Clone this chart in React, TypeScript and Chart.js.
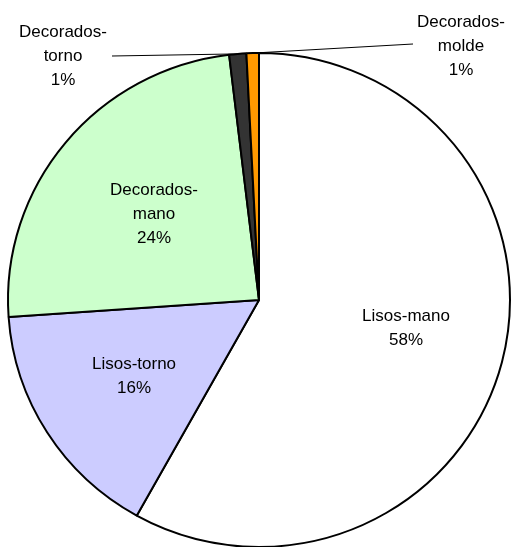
import React, { useEffect, useRef } from "react";
import { Chart, registerables } from "chart.js";

Chart.register(...registerables);

const categories = ["Lisos-mano", "Lisos-torno", "Decorados-mano", "Decorados-torno", "Decorados-molde"];
const values = [58.1, 15.8, 24.2, 1.1, 0.8];
const percentLabels = ["58%", "16%", "24%", "1%", "1%"];
const labelLines = [["Lisos-mano"], ["Lisos-torno"], ["Decorados-", "mano"], ["Decorados-", "torno"], ["Decorados-", "molde"]];
const colors = ["#FFFFFF", "#CCCCFF", "#CCFFCC", "#333333", "#FF9900"];

// label anchor: center x, first baseline y; leader line start (text side)
const labelPos = [
  { x: 406, y: 321 },
  { x: 134, y: 369 },
  { x: 154, y: 195 },
  { x: 63, y: 37 },
  { x: 461, y: 27 },
];
const leaders: Record<number, [number, number]> = {
  3: [112, 56],
  4: [413, 44],
};
const Y_SCALE = 0.984;

const ellipsePlugin = {
  id: "ellipse",
  beforeDatasetsDraw(chart: any) {
    const arc = chart.getDatasetMeta(0).data[0];
    const ctx = chart.ctx;
    ctx.save();
    ctx.translate(arc.x, arc.y);
    ctx.scale(1, Y_SCALE);
    ctx.translate(-arc.x, -arc.y);
  },
  afterDatasetsDraw(chart: any) {
    chart.ctx.restore();
  },
};

const labelPlugin = {
  id: "pieLabels",
  afterDraw(chart: any) {
    const ctx = chart.ctx;
    const meta = chart.getDatasetMeta(0);
    ctx.save();
    ctx.strokeStyle = "#000";
    ctx.lineWidth = 1;
    Object.keys(leaders).forEach((k) => {
      const i = Number(k);
      const arc = meta.data[i];
      const mid = (arc.startAngle + arc.endAngle) / 2;
      const px = arc.x + Math.cos(mid) * arc.outerRadius;
      const py = arc.y + Math.sin(mid) * arc.outerRadius * Y_SCALE;
      ctx.beginPath();
      ctx.moveTo(leaders[i][0], leaders[i][1]);
      ctx.lineTo(px, py);
      ctx.stroke();
    });
    ctx.fillStyle = "#000";
    ctx.font = "17px 'Liberation Sans', Arial, sans-serif";
    ctx.textAlign = "center";
    ctx.textBaseline = "alphabetic";
    const lh = 24;
    categories.forEach((_, i) => {
      const lines = [...labelLines[i], percentLabels[i]];
      lines.forEach((t, j) => {
        ctx.fillText(t, labelPos[i].x, labelPos[i].y + j * lh);
      });
    });
    ctx.restore();
  },
};

export default function App() {
  const ref = useRef<HTMLCanvasElement>(null);
  useEffect(() => {
    if (!ref.current) return;
    const chart = new Chart(ref.current, {
      type: "pie",
      data: {
        labels: categories,
        datasets: [
          {
            data: values,
            backgroundColor: colors,
            borderColor: "#000000",
            borderWidth: 2,
          },
        ],
      },
      options: {
        responsive: false,
        animation: false,
        radius: 251,
        layout: { padding: { left: 6, right: 0, top: 53, bottom: 0 } },
        plugins: {
          legend: { display: false },
          tooltip: { enabled: false },
        },
      } as any,
      plugins: [ellipsePlugin, labelPlugin],
    });
    return () => chart.destroy();
  }, []);
  return (
    <div style={{ position: "absolute", left: 0, top: 0, width: 512, height: 547, background: "#fff" }}>
      <canvas ref={ref} width={512} height={547} style={{ display: "block" }} />
    </div>
  );
}
